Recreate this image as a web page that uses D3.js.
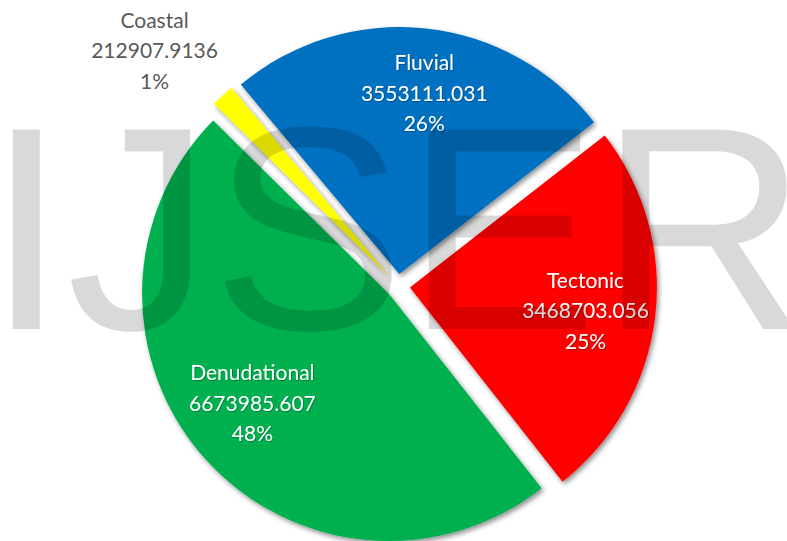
<!DOCTYPE html>
<html>
<head>
<meta charset="utf-8">
<script src="https://cdn.jsdelivr.net/npm/d3@7/dist/d3.min.js"></script>
<style>
  html, body { margin: 0; padding: 0; background: #ffffff; }
  svg { display: block; }
</style>
</head>
<body>
<div id="chart"></div>
<script>
// ---- data ----
const categories = ["Fluvial", "Tectonic", "Denudational", "Coastal"];
const values = [3553111.031, 3468703.056, 6673985.607, 212907.9136];
const percentLabels = ["26%", "25%", "48%", "1%"];
const colors = ["#0070C0", "#FF0000", "#00B050", "#FFFF00"];
const watermark = "IJSER";

// ---- layout ----
const W = 787, H = 541;
const cx = 398, cy = 286, R = 247, explode = 12;
const deg = Math.PI / 180;
const startAngle = -39.9 * deg;

const svg = d3.select("#chart").append("svg")
  .attr("width", W).attr("height", H)
  .attr("viewBox", `0 0 ${W} ${H}`);

svg.append("rect").attr("width", W).attr("height", H).attr("fill", "#ffffff");

const defs = svg.append("defs");
const sh = defs.append("filter").attr("id", "shadow")
  .attr("x", "-20%").attr("y", "-20%").attr("width", "140%").attr("height", "140%");
sh.append("feDropShadow").attr("dx", 2).attr("dy", 2.5).attr("stdDeviation", 2.5)
  .attr("flood-color", "#000").attr("flood-opacity", 0.45);
const tsh = defs.append("filter").attr("id", "tshadow")
  .attr("x", "-10%").attr("y", "-30%").attr("width", "120%").attr("height", "160%");
tsh.append("feDropShadow").attr("dx", 0.8).attr("dy", 0.8).attr("stdDeviation", 0.7)
  .attr("flood-color", "#000").attr("flood-opacity", 0.35);

const data = categories.map((c, i) => ({ name: c, value: values[i], pct: percentLabels[i], color: colors[i] }));
const total = d3.sum(values);

const pie = d3.pie().sort(null).value(d => d.value)
  .startAngle(startAngle).endAngle(startAngle + 2 * Math.PI);
const arcs = pie(data);
const arc = d3.arc().innerRadius(0).outerRadius(R);

function offsetOf(a) {
  const mid = (a.startAngle + a.endAngle) / 2;
  return [cx + explode * Math.sin(mid), cy - explode * Math.cos(mid)];
}

const slices = svg.append("g").attr("class", "slices");
slices.selectAll("g.slice").data(arcs).join("g")
  .attr("class", "slice")
  .attr("transform", a => { const o = offsetOf(a); return `translate(${o[0]},${o[1]})`; })
  .append("path")
  .attr("d", arc)
  .attr("fill", a => a.data.color)
  .attr("filter", "url(#shadow)");

// ---- labels ----
const labelFont = "Lato, 'Open Sans', sans-serif";
const fontSize = 21, lineH = 30.5;
const labels = svg.append("g").attr("class", "labels");
arcs.forEach(a => {
  const o = offsetOf(a);
  const mid = (a.startAngle + a.endAngle) / 2;
  const share = a.data.value / total;
  let ang, r, fill, filt;
  if (share < 0.05) {
    ang = mid - 4 * deg; r = 1.31 * R; fill = "#595959"; filt = null;
  } else {
    ang = mid + 2 * deg; r = 0.72 * R; fill = "#ffffff"; filt = "url(#tshadow)";
  }
  const px = o[0] + r * Math.sin(ang);
  const py = o[1] - r * Math.cos(ang) + 3;
  const t = labels.append("text")
    .attr("text-anchor", "middle")
    .attr("font-family", labelFont)
    .attr("font-size", fontSize)
    .attr("fill", fill);
  if (filt) t.attr("filter", filt);
  [a.data.name, String(a.data.value), a.data.pct].forEach((s, k) => {
    t.append("tspan").attr("x", px).attr("y", py + (k - 1) * lineH).text(s);
  });
});

// ---- watermark ----
svg.append("text")
  .attr("x", -14).attr("y", 329)
  .attr("font-family", "'Liberation Sans', Arial, sans-serif")
  .attr("font-size", 290)
  .attr("fill", "#000")
  .attr("fill-opacity", 0.15)
  .text(watermark);
</script>
</body>
</html>
